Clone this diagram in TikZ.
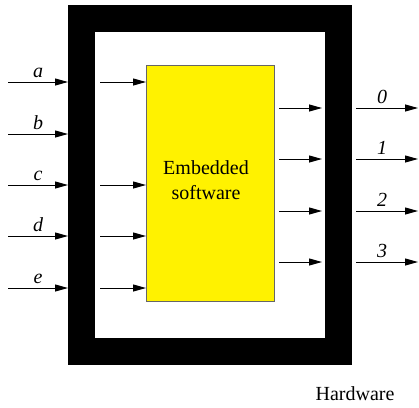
\documentclass[tikz,border=0pt]{standalone}
\usepackage{fontspec}
\setmainfont{Liberation Serif}
\usetikzlibrary{arrows.meta}
\begin{document}
\begin{tikzpicture}[x=1pt,y=-1pt,
  sig/.style={line width=1pt, -{Triangle[length=13pt,width=7pt]}},
  lbl/.style={anchor=base, font=\fontsize{20}{24}\selectfont\itshape, inner sep=0pt},
  txt/.style={font=\fontsize{20}{25}\selectfont, inner sep=0pt},
]
\useasboundingbox (0,0) rectangle (419,407);
% hardware frame (outer 68,5 -- 352,365 ; inner 95,32 -- 325,338)
\node[draw=black, line width=27pt, minimum width=257pt, minimum height=333pt,
      inner sep=0pt, anchor=center] (hw) at (210,185) {};
% embedded software box
\node[draw=black!60, fill=yellow, line width=1pt, minimum width=128pt,
      minimum height=236pt, inner sep=0pt, anchor=north west] (sw) at (146,65) {};
\node[txt, align=center] (swtext) at (206,180.6) {Embedded\\software};
% inputs
\foreach \n/\y/\inner in {a/82/1,b/134/0,c/185/1,d/236/1,e/288/1}{
  \coordinate (in\n) at (8,\y);
  \draw[sig] (in\n) -- (in\n -| hw.west);
  \node[lbl] (lab\n) at (38,\y-5) {\n};
  \ifnum\inner=1
    \coordinate (ii\n) at (100,\y);
    \draw[sig] (ii\n) -- (ii\n -| sw.west);
  \fi
}
% outputs
\foreach \n/\y in {0/108,1/159,2/211,3/262}{
  \coordinate (os\n) at (279,\y);
  \coordinate (oe\n) at (322,\y);
  \draw[sig] (os\n) -- (oe\n);
  \coordinate (ot\n) at (356,\y);
  \coordinate (of\n) at (418,\y);
  \draw[sig] (ot\n) -- (of\n);
  \node[lbl] (out\n) at (382,\y-5) {\n};
}
\node[txt, anchor=base] (hwlabel) at (355,400) {Hardware};
\end{tikzpicture}
\end{document}
